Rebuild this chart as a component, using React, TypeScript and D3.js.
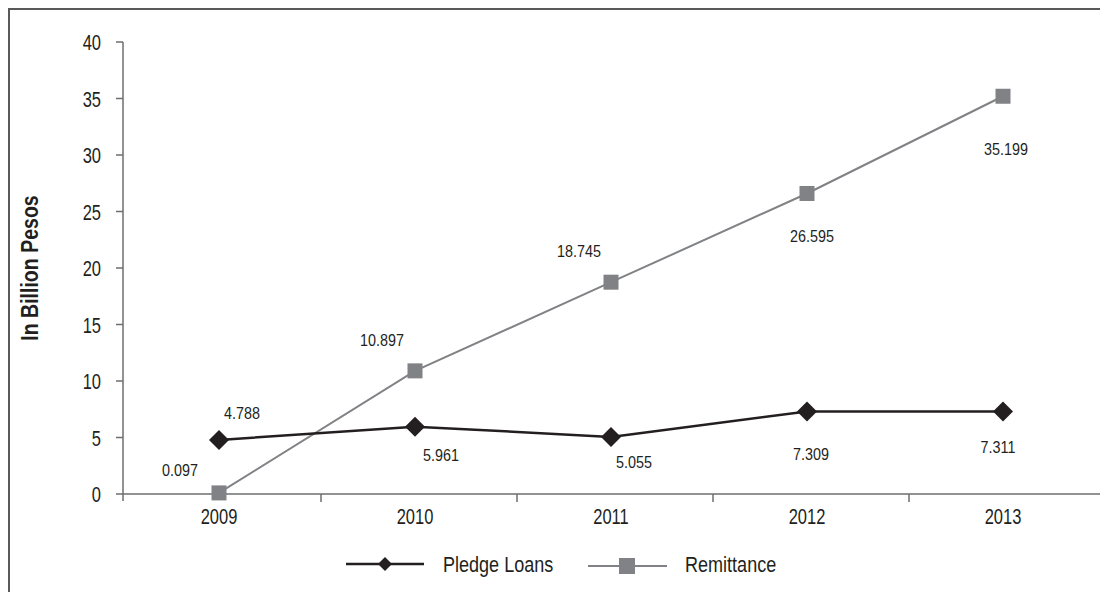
import * as d3 from "d3";
import React, { useEffect } from "react";

const years = ["2009", "2010", "2011", "2012", "2013"];
const pledgeLoans = [4.788, 5.961, 5.055, 7.309, 7.311];
const remittance = [0.097, 10.897, 18.745, 26.595, 35.199];
const yTicks = [0, 5, 10, 15, 20, 25, 30, 35, 40];
const seriesNames = ["Pledge Loans", "Remittance"];

// label offsets from the point (dx, baseline dy)
const pledgeLabelOffsets = [[23, -21], [26, 34], [23, 31], [4, 49], [-5, 42]];
const remitLabelOffsets = [[-39, -17], [-33, -25], [-32, -25], [5, 49], [3, 59]];

const FONT = "'Liberation Sans', Arial, sans-serif";
const DARK = "#231f20";
const GREY = "#808285";
const AXIS = "#6d6e71";

const width = 1100;
const height = 592;

// condensed text: Liberation Sans squeezed horizontally
const CText = (props: {
  x: number;
  y: number;
  size: number;
  sx: number;
  anchor?: string;
  bold?: boolean;
  rotate?: number;
  children: React.ReactNode;
}) => (
  <text
    transform={`translate(${props.x},${props.y}) rotate(${props.rotate ?? 0}) scale(${props.sx},1)`}
    textAnchor={props.anchor ?? "start"}
    fontSize={props.size}
    fontWeight={props.bold ? "bold" : "normal"}
    fill={DARK}
  >
    {props.children}
  </text>
);

const App = () => {
  useEffect(() => {
    document.body.style.margin = "0";
  }, []);

  const x = d3.scaleBand().domain(years).range([121, 1101]);
  const y = d3.scaleLinear().domain([0, 40]).range([494, 42]);
  const cx = (yr: string) => x(yr)! + x.bandwidth() / 2;

  const line = d3
    .line<number>()
    .x((_, i) => cx(years[i]))
    .y((d) => y(d));

  const diamond = (px: number, py: number, r: number) =>
    `M${px},${py - r}L${px + r},${py}L${px},${py + r}L${px - r},${py}Z`;

  const x0 = 123;

  return (
    <svg width={width} height={height} style={{ display: "block", fontFamily: FONT }}>
      <rect x={0} y={0} width={width} height={height} fill="white" />
      {/* frame, cut at right and bottom */}
      <path d={`M9,${height + 5}V9H${width + 5}`} fill="none" stroke="#58595b" strokeWidth={2} />

      {/* y axis */}
      <line x1={x0} x2={x0} y1={y(40)} y2={y(0) + 7} stroke={AXIS} strokeWidth={1.5} />
      {yTicks.map((t) => (
        <g key={t}>
          <line x1={x0 - 7} x2={x0} y1={y(t)} y2={y(t)} stroke={AXIS} strokeWidth={1.5} />
          <CText x={101} y={y(t) + 8} size={22} sx={0.75} anchor="end">
            {t}
          </CText>
        </g>
      ))}
      <CText x={38} y={(y(0) + y(40)) / 2} size={23} sx={0.85} anchor="middle" bold rotate={-90}>
        In Billion Pesos
      </CText>

      {/* x axis */}
      <line x1={x0} x2={width} y1={y(0)} y2={y(0)} stroke={AXIS} strokeWidth={1.5} />
      {years.slice(1).map((yr) => (
        <line key={yr} x1={x(yr)! + 4} x2={x(yr)! + 4} y1={y(0)} y2={y(0) + 8} stroke={AXIS} strokeWidth={1.5} />
      ))}
      {years.map((yr) => (
        <CText key={yr} x={cx(yr)} y={524} size={22} sx={0.75} anchor="middle">
          {yr}
        </CText>
      ))}

      {/* remittance */}
      <path d={line(remittance)!} fill="none" stroke={GREY} strokeWidth={2} />
      {remittance.map((v, i) => (
        <rect key={i} x={cx(years[i]) - 7.5} y={y(v) - 7.5} width={15} height={15} fill={GREY} />
      ))}

      {/* pledge loans */}
      <path d={line(pledgeLoans)!} fill="none" stroke={DARK} strokeWidth={2.5} />
      {pledgeLoans.map((v, i) => (
        <path key={i} d={diamond(cx(years[i]), y(v), 10)} fill={DARK} />
      ))}

      {/* data labels */}
      {pledgeLoans.map((v, i) => (
        <CText
          key={"p" + i}
          x={cx(years[i]) + pledgeLabelOffsets[i][0]}
          y={y(v) + pledgeLabelOffsets[i][1]}
          size={16.5}
          sx={0.87}
          anchor="middle"
        >
          {v.toFixed(3)}
        </CText>
      ))}
      {remittance.map((v, i) => (
        <CText
          key={"r" + i}
          x={cx(years[i]) + remitLabelOffsets[i][0]}
          y={y(v) + remitLabelOffsets[i][1]}
          size={16.5}
          sx={0.87}
          anchor="middle"
        >
          {v.toFixed(3)}
        </CText>
      ))}

      {/* legend */}
      <g>
        <line x1={346} x2={424} y1={564} y2={564} stroke={DARK} strokeWidth={2.5} />
        <path d={diamond(385, 564, 7)} fill={DARK} />
        <CText x={443} y={572} size={22} sx={0.82}>
          {seriesNames[0]}
        </CText>
        <line x1={588} x2={667} y1={566} y2={566} stroke={GREY} strokeWidth={2} />
        <rect x={619} y={558} width={16} height={16} fill={GREY} />
        <CText x={685} y={572} size={22} sx={0.82}>
          {seriesNames[1]}
        </CText>
      </g>
    </svg>
  );
};

export default App;
